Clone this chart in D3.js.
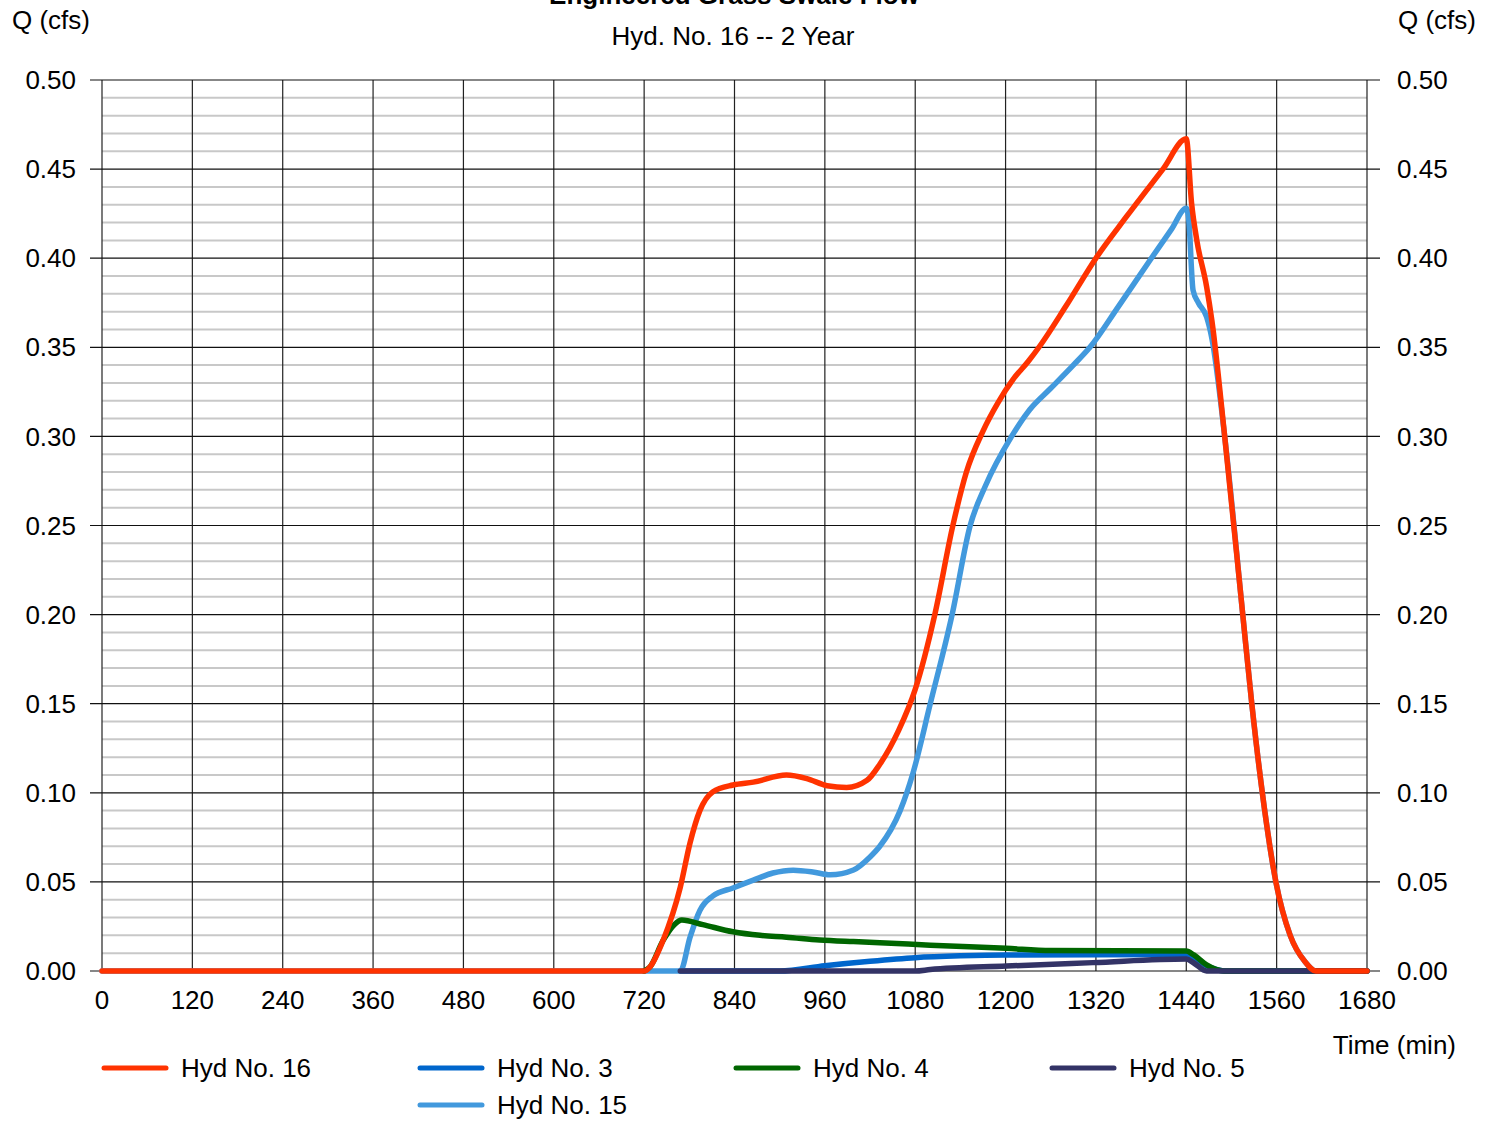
<!DOCTYPE html>
<html><head><meta charset="utf-8">
<script src="https://cdn.jsdelivr.net/npm/d3@7/dist/d3.min.js"></script>
<style>body{margin:0;background:#fff}svg{display:block;font-family:"Liberation Sans",Arial,sans-serif}</style>
</head><body><svg id="c" width="1496" height="1121"></svg>
<script>
const xTicks = [0,120,240,360,480,600,720,840,960,1080,1200,1320,1440,1560,1680];
const yTicks = [0,0.05,0.10,0.15,0.20,0.25,0.30,0.35,0.40,0.45,0.50];

const t16 = [0,720,728,745,768,781,794,811,838,865,909,936,963,989,1016,1033,1058,1080,1106,1130,1148,1170,1190,1210,1230,1246,1280,1320,1360,1409,1440,1447,1454,1467,1474,1491,1515,1527,1541,1559,1578,1598,1612,1680];
const q16 = [0,0,0.0024,0.017,0.047,0.072,0.090,0.1005,0.1044,0.106,0.110,0.108,0.104,0.103,0.107,0.116,0.135,0.158,0.200,0.250,0.280,0.303,0.319,0.332,0.342,0.351,0.373,0.400,0.423,0.450,0.467,0.431,0.410,0.384,0.365,0.300,0.200,0.150,0.100,0.050,0.020,0.005,0,0];

const t15 = [0,768,781,794,811,838,865,891,918,944,967,998,1020,1033,1060,1077,1100,1129,1153,1173,1208,1232,1260,1290,1312,1350,1392,1420,1440,1443,1449,1456,1467,1474,1491,1515,1527,1541,1559,1578,1598,1612,1680];
const q15 = [0,0,0.019,0.034,0.042,0.0466,0.051,0.055,0.0566,0.0556,0.054,0.0567,0.064,0.070,0.090,0.111,0.150,0.200,0.250,0.272,0.300,0.315,0.327,0.340,0.350,0.373,0.399,0.416,0.428,0.423,0.382,0.375,0.367,0.355,0.300,0.200,0.150,0.100,0.050,0.020,0.005,0,0];

const t4 = [720,728,745,760,770,798,838,874,909,953,998,1033,1100,1201,1260,1440,1450,1467,1490,1680];
const q4 = [0,0.0024,0.017,0.026,0.0286,0.026,0.022,0.020,0.019,0.0174,0.0165,0.0159,0.0145,0.0127,0.0115,0.0112,0.009,0.0034,0,0];

const t3 = [768,900,960,1020,1080,1140,1200,1440,1450,1467,1494,1680];
const q3 = [0,0,0.003,0.0055,0.0075,0.0085,0.009,0.0092,0.0075,0.003,0,0];

const t5 = [768,1080,1100,1201,1316,1440,1450,1467,1680];
const q5 = [0,0,0.0008,0.0028,0.0047,0.0067,0.0045,0,0];

const legendNames = ["Hyd No. 16","Hyd No. 3","Hyd No. 4","Hyd No. 5","Hyd No. 15"];
const colors = {h16:"#ff3300", h3:"#0066cc", h4:"#006600", h5:"#333366", h15:"#4299dd"};

const svg = d3.select("#c");
const x = d3.scaleLinear().domain([0,1680]).range([102,1367]);
const y = d3.scaleLinear().domain([0,0.5]).range([971,80]);
const FS = 26;

// minor grid
const minor = d3.range(1,50).map(i=>i*0.01).filter(v=>Math.round(v*100)%5!==0);
svg.append("g").selectAll("line").data(minor).join("line")
  .attr("x1",x(0)).attr("x2",x(1680)).attr("y1",d=>y(d)).attr("y2",d=>y(d))
  .attr("stroke","#c8c8c8").attr("stroke-width",2);
// vertical grid
svg.append("g").selectAll("line").data(xTicks).join("line")
  .attr("x1",d=>x(d)).attr("x2",d=>x(d)).attr("y1",y(0.5)).attr("y2",y(0))
  .attr("stroke","#222").attr("stroke-width",1.2);
// major horizontal
svg.append("g").selectAll("line").data(yTicks).join("line")
  .attr("x1",x(0)-12).attr("x2",x(1680)+13).attr("y1",d=>y(d)).attr("y2",d=>y(d))
  .attr("stroke","#111").attr("stroke-width",1.2);

// axes labels
svg.append("g").selectAll("text").data(yTicks).join("text")
  .attr("x",76).attr("y",d=>y(d)).attr("dy","0.35em").attr("text-anchor","end")
  .attr("font-size",FS).text(d=>d.toFixed(2));
svg.append("g").selectAll("text").data(yTicks).join("text")
  .attr("x",1397).attr("y",d=>y(d)).attr("dy","0.35em").attr("text-anchor","start")
  .attr("font-size",FS).text(d=>d.toFixed(2));
svg.append("g").selectAll("text").data(xTicks).join("text")
  .attr("x",d=>x(d)).attr("y",1009).attr("text-anchor","middle")
  .attr("font-size",FS).text(d=>d);

svg.append("text").attr("x",12).attr("y",29).attr("font-size",FS).text("Q (cfs)");
svg.append("text").attr("x",1398).attr("y",29).attr("font-size",FS).text("Q (cfs)");
svg.append("text").attr("x",1456).attr("y",1054).attr("text-anchor","end").attr("font-size",FS).text("Time (min)");
svg.append("text").attr("x",734).attr("y",4).attr("text-anchor","middle").attr("font-size",FS).attr("font-weight","bold").text("Engineered Grass Swale Flow");
svg.append("text").attr("x",733).attr("y",45).attr("text-anchor","middle").attr("font-size",FS).text("Hyd. No. 16 -- 2 Year");

const line = d3.line().x(d=>x(d[0])).y(d=>y(d[1])).curve(d3.curveMonotoneX);
const series = [
  {t:t3,q:q3,c:colors.h3},
  {t:t15,q:q15,c:colors.h15},
  {t:t4,q:q4,c:colors.h4},
  {t:t5,q:q5,c:colors.h5},
  {t:t16,q:q16,c:colors.h16}
];
series.forEach(s=>{
  svg.append("path").attr("d",line(d3.zip(s.t,s.q))).attr("fill","none")
    .attr("stroke",s.c).attr("stroke-width",5.5).attr("stroke-linejoin","round").attr("stroke-linecap","round");
});

// legend
const leg = [
  {n:legendNames[0],c:colors.h16,col:0,row:0},
  {n:legendNames[1],c:colors.h3,col:1,row:0},
  {n:legendNames[2],c:colors.h4,col:2,row:0},
  {n:legendNames[3],c:colors.h5,col:3,row:0},
  {n:legendNames[4],c:colors.h15,col:1,row:1}
];
const lg = svg.append("g");
leg.forEach(l=>{
  const lx = 104 + l.col*316, ly = 1068 + l.row*37;
  lg.append("line").attr("x1",lx).attr("x2",lx+62).attr("y1",ly).attr("y2",ly)
    .attr("stroke",l.c).attr("stroke-width",5).attr("stroke-linecap","round");
  lg.append("text").attr("x",lx+77).attr("y",ly+9).attr("font-size",FS).text(l.n);
});
</script></body></html>
